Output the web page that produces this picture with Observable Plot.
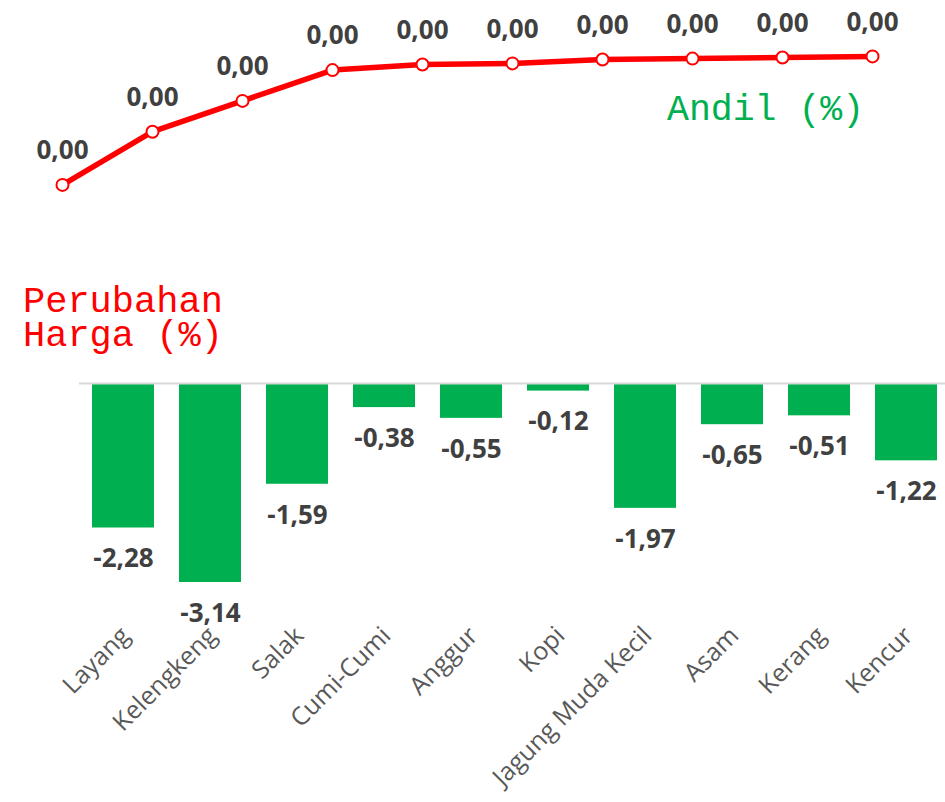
<!DOCTYPE html>
<html>
<head>
<meta charset="utf-8">
<script src="https://cdn.jsdelivr.net/npm/d3@7"></script>
<script src="https://cdn.jsdelivr.net/npm/@observablehq/plot@0.6"></script>
<style>
  html, body { margin: 0; padding: 0; background: #fff; }
  #wrap { position: relative; width: 945px; height: 802px; overflow: hidden; }
  #wrap svg { position: absolute; left: 0; top: 0; overflow: visible; }
  .ttl { position: absolute; font-family: "Liberation Mono", "DejaVu Sans Mono", monospace; white-space: pre; }
</style>
</head>
<body>
<div id="wrap">
  <div id="top"></div>
  <div id="bottom"></div>
  <div class="ttl" style="left:667px; top:92px; color:#00B050; font-size:36.5px; line-height:38px;">Andil (%)</div>
  <div class="ttl" style="left:23px; top:285px; color:#FF0000; font-size:37px; line-height:34px;">Perubahan
Harga (%)</div>
</div>
<script>
const categories = ["Layang", "Kelengkeng", "Salak", "Cumi-Cumi", "Anggur", "Kopi", "Jagung Muda Kecil", "Asam", "Kerang", "Kencur"];
const perubahan = [-2.28, -3.14, -1.59, -0.38, -0.55, -0.12, -1.97, -0.65, -0.51, -1.22];
const andil = [-0.0048, -0.0029, -0.0018, -0.0007, -0.0005, -0.00046, -0.00032, -0.00029, -0.00025, -0.00021];

const fmt = v => (Math.round(v * 100) / 100 + 0).toFixed(2).replace(".", ",");

const lineData = categories.map((c, i) => ({cat: c, v: andil[i]}));
const barData = categories.map((c, i) => ({cat: c, v: perubahan[i]}));

const topPlot = Plot.plot({
  width: 945,
  height: 230,
  margin: 0,
  x: {type: "point", domain: categories, range: [60, 874], padding: 0, axis: null},
  y: {domain: [-0.005, 0], range: [190, 50], axis: null},
  marks: [
    Plot.line(lineData, {x: "cat", y: "v", stroke: "#FF0000", strokeWidth: 5.5}),
    Plot.dot(lineData, {x: "cat", y: "v", r: 6, fill: "#fff", stroke: "#FF0000", strokeWidth: 2}),
    Plot.text(lineData, {x: "cat", y: "v", text: d => fmt(d.v), dy: -34, fontSize: 26, fontWeight: "bold", fill: "#404040", fontFamily: "Open Sans"})
  ]
});
document.getElementById("top").appendChild(topPlot);

const bottomPlot = Plot.plot({
  width: 945,
  height: 802,
  marginLeft: 79,
  marginRight: 0,
  marginTop: 0,
  marginBottom: 175,
  x: {type: "band", domain: categories, range: [79.5, 949.5], paddingInner: 0.287, paddingOuter: 0.1435},
  y: {domain: [-3.14, 0], range: [582, 383], axis: null},
  marks: [
    Plot.barY(barData, {x: "cat", y: "v", fill: "#00B050"}),
    Plot.ruleY([0], {stroke: "#d9d9d9", strokeWidth: 2}),
    Plot.text(barData, {x: "cat", y: "v", text: d => fmt(d.v), dy: 31, fontSize: 26, fontWeight: "bold", fill: "#404040", fontFamily: "Open Sans"}),
    Plot.axisX({tickSize: 0, tickPadding: 4, tickRotate: -45, fontSize: 25, fill: "#595959", fontFamily: "Open Sans", label: null, dx: 2})
  ]
});
document.getElementById("bottom").appendChild(bottomPlot);
</script>
</body>
</html>
